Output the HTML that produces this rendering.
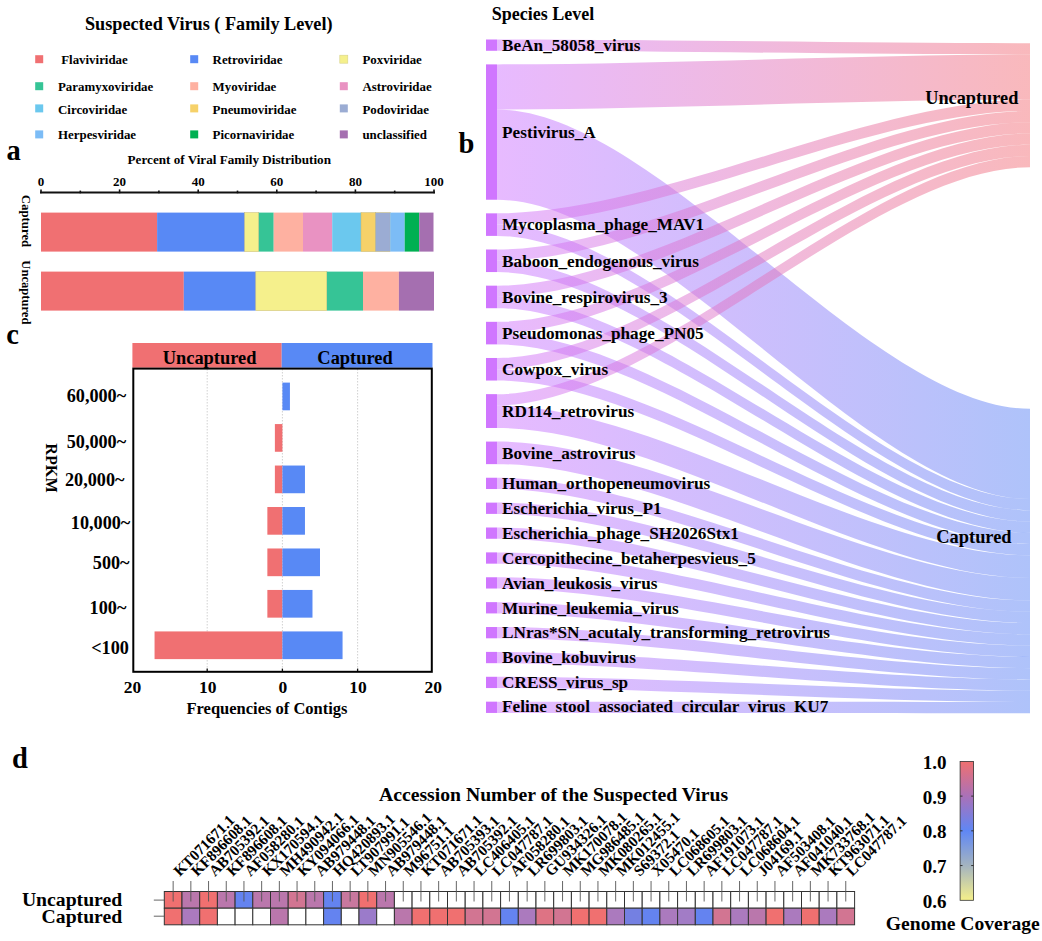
<!DOCTYPE html>
<html><head><meta charset="utf-8"><style>
html,body{margin:0;padding:0;background:#fff;}
svg{display:block;}
text{font-family:"Liberation Serif",serif;font-weight:bold;fill:#000;}
</style></head><body>
<svg width="1042" height="941" viewBox="0 0 1042 941">
<rect width="1042" height="941" fill="#fff"/>
<text x="85.00" y="29.80" font-size="18.2" text-anchor="start" >Suspected Virus ( Family Level)</text>
<rect x="35.2" y="55.2" width="8" height="8" fill="#F07072"/>
<text x="61.20" y="63.90" font-size="12.9" text-anchor="start" >Flaviviridae</text>
<rect x="35.2" y="82.2" width="8" height="8" fill="#36C496"/>
<text x="58.00" y="91.30" font-size="12.9" text-anchor="start" >Paramyxoviridae</text>
<rect x="35.2" y="104.4" width="8" height="8" fill="#6BC8EE"/>
<text x="58.00" y="113.50" font-size="12.9" text-anchor="start" >Circoviridae</text>
<rect x="35.2" y="130.4" width="8" height="8" fill="#7CBCF6"/>
<text x="58.00" y="139.20" font-size="12.9" text-anchor="start" >Herpesviridae</text>
<rect x="190.2" y="55.2" width="8" height="8" fill="#5889F5"/>
<text x="212.60" y="63.90" font-size="12.9" text-anchor="start" >Retroviridae</text>
<rect x="190.2" y="82.2" width="8" height="8" fill="#FEB1A1"/>
<text x="212.60" y="91.30" font-size="12.9" text-anchor="start" >Myoviridae</text>
<rect x="190.2" y="104.4" width="8" height="8" fill="#F6D169"/>
<text x="212.60" y="113.50" font-size="12.9" text-anchor="start" >Pneumoviridae</text>
<rect x="190.2" y="130.4" width="8" height="8" fill="#00B052"/>
<text x="212.60" y="139.20" font-size="12.9" text-anchor="start" >Picornaviridae</text>
<rect x="339.8" y="55.2" width="8" height="8" fill="#F5F08C" stroke="#d8d28a" stroke-width="0.6"/>
<text x="362.40" y="63.90" font-size="12.9" text-anchor="start" >Poxviridae</text>
<rect x="339.8" y="82.2" width="8" height="8" fill="#E992C2"/>
<text x="362.40" y="91.30" font-size="12.9" text-anchor="start" >Astroviridae</text>
<rect x="339.8" y="104.4" width="8" height="8" fill="#9BACD3"/>
<text x="362.40" y="113.50" font-size="12.9" text-anchor="start" >Podoviridae</text>
<rect x="339.8" y="130.4" width="8" height="8" fill="#A56FB0"/>
<text x="362.40" y="139.20" font-size="12.9" text-anchor="start" >unclassified</text>
<text x="6.40" y="159.80" font-size="28.5" text-anchor="start" >a</text>
<text x="127.60" y="164.20" font-size="13.15" text-anchor="start" >Percent of Viral Family Distribution</text>
<line x1="40.0" y1="192.6" x2="435.0" y2="192.6" stroke="#111" stroke-width="2"/>
<line x1="41.00" y1="189.4" x2="41.00" y2="193.3" stroke="#111" stroke-width="1.6"/>
<text x="41.00" y="185.90" font-size="13" text-anchor="middle" >0</text>
<line x1="80.30" y1="190.6" x2="80.30" y2="193.3" stroke="#111" stroke-width="1.6"/>
<line x1="119.60" y1="189.4" x2="119.60" y2="193.3" stroke="#111" stroke-width="1.6"/>
<text x="119.60" y="185.90" font-size="13" text-anchor="middle" >20</text>
<line x1="158.90" y1="190.6" x2="158.90" y2="193.3" stroke="#111" stroke-width="1.6"/>
<line x1="198.20" y1="189.4" x2="198.20" y2="193.3" stroke="#111" stroke-width="1.6"/>
<text x="198.20" y="185.90" font-size="13" text-anchor="middle" >40</text>
<line x1="237.50" y1="190.6" x2="237.50" y2="193.3" stroke="#111" stroke-width="1.6"/>
<line x1="276.80" y1="189.4" x2="276.80" y2="193.3" stroke="#111" stroke-width="1.6"/>
<text x="276.80" y="185.90" font-size="13" text-anchor="middle" >60</text>
<line x1="316.10" y1="190.6" x2="316.10" y2="193.3" stroke="#111" stroke-width="1.6"/>
<line x1="355.40" y1="189.4" x2="355.40" y2="193.3" stroke="#111" stroke-width="1.6"/>
<text x="355.40" y="185.90" font-size="13" text-anchor="middle" >80</text>
<line x1="394.70" y1="190.6" x2="394.70" y2="193.3" stroke="#111" stroke-width="1.6"/>
<line x1="434.00" y1="189.4" x2="434.00" y2="193.3" stroke="#111" stroke-width="1.6"/>
<text x="434.00" y="185.90" font-size="13" text-anchor="middle" >100</text>
<rect x="41.00" y="212.6" width="116.10" height="39" fill="#F07072"/>
<rect x="157.10" y="212.6" width="87.60" height="39" fill="#5889F5"/>
<rect x="244.70" y="212.6" width="14.10" height="39" fill="#F5F08C" stroke="#c8b870" stroke-width="0.5"/>
<rect x="258.80" y="212.6" width="14.90" height="39" fill="#36C496"/>
<rect x="273.70" y="212.6" width="29.30" height="39" fill="#FEB1A1"/>
<rect x="303.00" y="212.6" width="29.20" height="39" fill="#E992C2"/>
<rect x="332.20" y="212.6" width="28.80" height="39" fill="#6BC8EE"/>
<rect x="361.00" y="212.6" width="14.30" height="39" fill="#F6D169" stroke="#c8b870" stroke-width="0.5"/>
<rect x="375.30" y="212.6" width="14.90" height="39" fill="#9BACD3" stroke="#c8b870" stroke-width="0.5"/>
<rect x="390.20" y="212.6" width="14.50" height="39" fill="#7CBCF6"/>
<rect x="404.70" y="212.6" width="14.50" height="39" fill="#00B052"/>
<rect x="419.20" y="212.6" width="14.30" height="39" fill="#A56FB0"/>
<rect x="41.00" y="271.6" width="142.80" height="39" fill="#F07072"/>
<rect x="183.80" y="271.6" width="72.00" height="39" fill="#5889F5"/>
<rect x="255.80" y="271.6" width="71.10" height="39" fill="#F5F08C" stroke="#c8b870" stroke-width="0.5"/>
<rect x="326.90" y="271.6" width="36.10" height="39" fill="#36C496"/>
<rect x="363.00" y="271.6" width="35.90" height="39" fill="#FEB1A1"/>
<rect x="398.90" y="271.6" width="35.10" height="39" fill="#A56FB0"/>
<text transform="translate(22.2,221.0) rotate(90)" font-size="12.8" text-anchor="middle">Captured</text>
<text transform="translate(22.0,292.4) rotate(90)" font-size="12.6" text-anchor="middle">Uncaptured</text>
<text x="6.20" y="343.60" font-size="28.5" text-anchor="start" >c</text>
<rect x="132.4" y="343" width="149.30" height="24.7" fill="#F07072"/>
<rect x="281.7" y="343" width="150.80" height="24.7" fill="#5889F5"/>
<text x="209.60" y="363.50" font-size="18.4" text-anchor="middle" >Uncaptured</text>
<text x="355.00" y="363.50" font-size="18.4" text-anchor="middle" >Captured</text>
<line x1="207.20" y1="369" x2="207.20" y2="671" stroke="#bdbdbd" stroke-width="0.7" stroke-dasharray="1.5,1.5"/>
<line x1="282.40" y1="369" x2="282.40" y2="671" stroke="#bdbdbd" stroke-width="0.7" stroke-dasharray="1.5,1.5"/>
<line x1="357.60" y1="369" x2="357.60" y2="671" stroke="#bdbdbd" stroke-width="0.7" stroke-dasharray="1.5,1.5"/>
<rect x="282.40" y="382.60" width="7.52" height="27.7" fill="#5889F5"/>
<rect x="274.88" y="424.07" width="7.52" height="27.7" fill="#F07072"/>
<rect x="274.88" y="465.54" width="7.52" height="27.7" fill="#F07072"/>
<rect x="282.40" y="465.54" width="22.56" height="27.7" fill="#5889F5"/>
<rect x="267.36" y="507.01" width="15.04" height="27.7" fill="#F07072"/>
<rect x="282.40" y="507.01" width="22.56" height="27.7" fill="#5889F5"/>
<rect x="267.36" y="548.48" width="15.04" height="27.7" fill="#F07072"/>
<rect x="282.40" y="548.48" width="37.60" height="27.7" fill="#5889F5"/>
<rect x="267.36" y="589.95" width="15.04" height="27.7" fill="#F07072"/>
<rect x="282.40" y="589.95" width="30.08" height="27.7" fill="#5889F5"/>
<rect x="154.56" y="631.42" width="127.84" height="27.7" fill="#F07072"/>
<rect x="282.40" y="631.42" width="60.16" height="27.7" fill="#5889F5"/>
<rect x="133.3" y="368.6" width="298.5" height="303.2" fill="none" stroke="#000" stroke-width="2"/>
<line x1="207.20" y1="668.6" x2="207.20" y2="671" stroke="#111" stroke-width="1.3"/>
<line x1="282.40" y1="668.6" x2="282.40" y2="671" stroke="#111" stroke-width="1.3"/>
<line x1="357.60" y1="668.6" x2="357.60" y2="671" stroke="#111" stroke-width="1.3"/>
<text x="66.70" y="402.40" font-size="18.2" text-anchor="start" >60,000~</text>
<text x="66.70" y="447.60" font-size="18.2" text-anchor="start" >50,000~</text>
<text x="65.00" y="485.90" font-size="18.2" text-anchor="start" >20,000~</text>
<text x="70.80" y="528.90" font-size="18.2" text-anchor="start" >10,000~</text>
<text x="92.80" y="568.80" font-size="18.2" text-anchor="start" >500~</text>
<text x="89.60" y="613.70" font-size="18.2" text-anchor="start" >100~</text>
<text x="91.20" y="653.50" font-size="18.2" text-anchor="start" >&lt;100</text>
<text transform="translate(45.9,468) rotate(90)" font-size="16.2" text-anchor="middle">RPKM</text>
<text x="132.50" y="693.30" font-size="17.5" text-anchor="middle" >20</text>
<text x="207.70" y="693.30" font-size="17.5" text-anchor="middle" >10</text>
<text x="282.90" y="693.30" font-size="17.5" text-anchor="middle" >0</text>
<text x="358.10" y="693.30" font-size="17.5" text-anchor="middle" >10</text>
<text x="433.30" y="693.30" font-size="17.5" text-anchor="middle" >20</text>
<text x="186.50" y="713.60" font-size="16.5" text-anchor="start" >Frequencies of Contigs</text>
<text x="458.60" y="152.60" font-size="28.5" text-anchor="start" >b</text>
<text x="491.70" y="19.70" font-size="18.0" text-anchor="start" >Species Level</text>
<defs><linearGradient id="gu" gradientUnits="userSpaceOnUse" x1="497.0" y1="0" x2="1030.0" y2="0"><stop offset="0" stop-color="#D076FF"/><stop offset="1" stop-color="#F3737A"/></linearGradient><linearGradient id="gc" gradientUnits="userSpaceOnUse" x1="497.0" y1="0" x2="1030.0" y2="0"><stop offset="0" stop-color="#D076FF"/><stop offset="1" stop-color="#5F87F5"/></linearGradient><linearGradient id="cb" x1="0" y1="0" x2="0" y2="1"><stop offset="0" stop-color="#F07070"/><stop offset="0.25" stop-color="#AA71B8"/><stop offset="0.5" stop-color="#5F87F5"/><stop offset="0.75" stop-color="#A4B4C0"/><stop offset="1" stop-color="#F5F08A"/></linearGradient><clipPath id="sk"><rect x="0" y="0" width="1042" height="712.9"/></clipPath></defs>
<rect x="486.0" y="39.50" width="11.0" height="11.28" fill="#D076FF"/>
<rect x="486.0" y="64.38" width="11.0" height="135.36" fill="#D076FF"/>
<rect x="486.0" y="213.34" width="11.0" height="22.56" fill="#D076FF"/>
<rect x="486.0" y="249.50" width="11.0" height="22.56" fill="#D076FF"/>
<rect x="486.0" y="285.66" width="11.0" height="22.56" fill="#D076FF"/>
<rect x="486.0" y="321.82" width="11.0" height="22.56" fill="#D076FF"/>
<rect x="486.0" y="357.98" width="11.0" height="22.56" fill="#D076FF"/>
<rect x="486.0" y="394.14" width="11.0" height="33.84" fill="#D076FF"/>
<rect x="486.0" y="441.58" width="11.0" height="22.56" fill="#D076FF"/>
<rect x="486.0" y="477.74" width="11.0" height="11.28" fill="#D076FF"/>
<rect x="486.0" y="502.62" width="11.0" height="11.28" fill="#D076FF"/>
<rect x="486.0" y="527.50" width="11.0" height="11.28" fill="#D076FF"/>
<rect x="486.0" y="552.38" width="11.0" height="11.28" fill="#D076FF"/>
<rect x="486.0" y="577.26" width="11.0" height="11.28" fill="#D076FF"/>
<rect x="486.0" y="602.14" width="11.0" height="11.28" fill="#D076FF"/>
<rect x="486.0" y="627.02" width="11.0" height="11.28" fill="#D076FF"/>
<rect x="486.0" y="651.90" width="11.0" height="11.28" fill="#D076FF"/>
<rect x="486.0" y="676.78" width="11.0" height="11.28" fill="#D076FF"/>
<rect x="486.0" y="701.66" width="11.0" height="11.28" fill="#D076FF"/>
<path d="M497.0,109.50 C656.90,109.50 870.10,408.74 1030.0,408.74 L1030.0,498.98 C870.10,498.98 656.90,199.74 497.0,199.74 Z" fill="url(#gc)" fill-opacity="0.5"/>
<path d="M497.0,224.62 C656.90,224.62 870.10,498.98 1030.0,498.98 L1030.0,510.26 C870.10,510.26 656.90,235.90 497.0,235.90 Z" fill="url(#gc)" fill-opacity="0.5"/>
<path d="M497.0,260.78 C656.90,260.78 870.10,510.26 1030.0,510.26 L1030.0,521.54 C870.10,521.54 656.90,272.06 497.0,272.06 Z" fill="url(#gc)" fill-opacity="0.5"/>
<path d="M497.0,296.94 C656.90,296.94 870.10,521.54 1030.0,521.54 L1030.0,532.82 C870.10,532.82 656.90,308.22 497.0,308.22 Z" fill="url(#gc)" fill-opacity="0.5"/>
<path d="M497.0,333.10 C656.90,333.10 870.10,532.82 1030.0,532.82 L1030.0,544.10 C870.10,544.10 656.90,344.38 497.0,344.38 Z" fill="url(#gc)" fill-opacity="0.5"/>
<path d="M497.0,369.26 C656.90,369.26 870.10,544.10 1030.0,544.10 L1030.0,555.38 C870.10,555.38 656.90,380.54 497.0,380.54 Z" fill="url(#gc)" fill-opacity="0.5"/>
<path d="M497.0,405.42 C656.90,405.42 870.10,555.38 1030.0,555.38 L1030.0,577.94 C870.10,577.94 656.90,427.98 497.0,427.98 Z" fill="url(#gc)" fill-opacity="0.5"/>
<path d="M497.0,441.58 C656.90,441.58 870.10,577.94 1030.0,577.94 L1030.0,600.50 C870.10,600.50 656.90,464.14 497.0,464.14 Z" fill="url(#gc)" fill-opacity="0.5"/>
<path d="M497.0,477.74 C656.90,477.74 870.10,600.50 1030.0,600.50 L1030.0,611.78 C870.10,611.78 656.90,489.02 497.0,489.02 Z" fill="url(#gc)" fill-opacity="0.5"/>
<path d="M497.0,502.62 C656.90,502.62 870.10,611.78 1030.0,611.78 L1030.0,623.06 C870.10,623.06 656.90,513.90 497.0,513.90 Z" fill="url(#gc)" fill-opacity="0.5"/>
<path d="M497.0,527.50 C656.90,527.50 870.10,623.06 1030.0,623.06 L1030.0,634.34 C870.10,634.34 656.90,538.78 497.0,538.78 Z" fill="url(#gc)" fill-opacity="0.5"/>
<path d="M497.0,552.38 C656.90,552.38 870.10,634.34 1030.0,634.34 L1030.0,645.62 C870.10,645.62 656.90,563.66 497.0,563.66 Z" fill="url(#gc)" fill-opacity="0.5"/>
<path d="M497.0,577.26 C656.90,577.26 870.10,645.62 1030.0,645.62 L1030.0,656.90 C870.10,656.90 656.90,588.54 497.0,588.54 Z" fill="url(#gc)" fill-opacity="0.5"/>
<path d="M497.0,602.14 C656.90,602.14 870.10,656.90 1030.0,656.90 L1030.0,668.18 C870.10,668.18 656.90,613.42 497.0,613.42 Z" fill="url(#gc)" fill-opacity="0.5"/>
<path d="M497.0,627.02 C656.90,627.02 870.10,668.18 1030.0,668.18 L1030.0,679.46 C870.10,679.46 656.90,638.30 497.0,638.30 Z" fill="url(#gc)" fill-opacity="0.5"/>
<path d="M497.0,651.90 C656.90,651.90 870.10,679.46 1030.0,679.46 L1030.0,690.74 C870.10,690.74 656.90,663.18 497.0,663.18 Z" fill="url(#gc)" fill-opacity="0.5"/>
<path d="M497.0,676.78 C656.90,676.78 870.10,690.74 1030.0,690.74 L1030.0,702.02 C870.10,702.02 656.90,688.06 497.0,688.06 Z" fill="url(#gc)" fill-opacity="0.5"/>
<path d="M497.0,701.66 C656.90,701.66 870.10,702.02 1030.0,702.02 L1030.0,713.30 C870.10,713.30 656.90,712.94 497.0,712.94 Z" fill="url(#gc)" fill-opacity="0.5"/>
<path d="M497.0,39.50 C656.90,39.50 870.10,43.20 1030.0,43.20 L1030.0,54.48 C870.10,54.48 656.90,50.78 497.0,50.78 Z" fill="url(#gu)" fill-opacity="0.5"/>
<path d="M497.0,64.38 C656.90,64.38 870.10,54.48 1030.0,54.48 L1030.0,99.60 C870.10,99.60 656.90,109.50 497.0,109.50 Z" fill="url(#gu)" fill-opacity="0.5"/>
<path d="M497.0,213.34 C656.90,213.34 870.10,99.60 1030.0,99.60 L1030.0,110.88 C870.10,110.88 656.90,224.62 497.0,224.62 Z" fill="url(#gu)" fill-opacity="0.5"/>
<path d="M497.0,249.50 C656.90,249.50 870.10,110.88 1030.0,110.88 L1030.0,122.16 C870.10,122.16 656.90,260.78 497.0,260.78 Z" fill="url(#gu)" fill-opacity="0.5"/>
<path d="M497.0,285.66 C656.90,285.66 870.10,122.16 1030.0,122.16 L1030.0,133.44 C870.10,133.44 656.90,296.94 497.0,296.94 Z" fill="url(#gu)" fill-opacity="0.5"/>
<path d="M497.0,321.82 C656.90,321.82 870.10,133.44 1030.0,133.44 L1030.0,144.72 C870.10,144.72 656.90,333.10 497.0,333.10 Z" fill="url(#gu)" fill-opacity="0.5"/>
<path d="M497.0,357.98 C656.90,357.98 870.10,144.72 1030.0,144.72 L1030.0,156.00 C870.10,156.00 656.90,369.26 497.0,369.26 Z" fill="url(#gu)" fill-opacity="0.5"/>
<path d="M497.0,394.14 C656.90,394.14 870.10,156.00 1030.0,156.00 L1030.0,167.28 C870.10,167.28 656.90,405.42 497.0,405.42 Z" fill="url(#gu)" fill-opacity="0.5"/>
<text x="502.10" y="50.94" font-size="17.2" text-anchor="start" clip-path="url(#sk)">BeAn_58058_virus</text>
<text x="502.10" y="137.86" font-size="17.2" text-anchor="start" clip-path="url(#sk)">Pestivirus_A</text>
<text x="502.10" y="230.42" font-size="17.2" text-anchor="start" clip-path="url(#sk)">Mycoplasma_phage_MAV1</text>
<text x="502.10" y="266.58" font-size="17.2" text-anchor="start" clip-path="url(#sk)">Baboon_endogenous_virus</text>
<text x="502.10" y="302.74" font-size="17.2" text-anchor="start" clip-path="url(#sk)">Bovine_respirovirus_3</text>
<text x="502.10" y="338.90" font-size="17.2" text-anchor="start" clip-path="url(#sk)">Pseudomonas_phage_PN05</text>
<text x="502.10" y="375.06" font-size="17.2" text-anchor="start" clip-path="url(#sk)">Cowpox_virus</text>
<text x="502.10" y="416.86" font-size="17.2" text-anchor="start" clip-path="url(#sk)">RD114_retrovirus</text>
<text x="502.10" y="458.66" font-size="17.2" text-anchor="start" clip-path="url(#sk)">Bovine_astrovirus</text>
<text x="502.10" y="489.18" font-size="17.2" text-anchor="start" clip-path="url(#sk)">Human_orthopeneumovirus</text>
<text x="502.10" y="514.06" font-size="17.2" text-anchor="start" clip-path="url(#sk)">Escherichia_virus_P1</text>
<text x="502.10" y="538.94" font-size="17.2" text-anchor="start" clip-path="url(#sk)">Escherichia_phage_SH2026Stx1</text>
<text x="502.10" y="563.82" font-size="17.2" text-anchor="start" clip-path="url(#sk)">Cercopithecine_betaherpesvieus_5</text>
<text x="502.10" y="588.70" font-size="17.2" text-anchor="start" clip-path="url(#sk)">Avian_leukosis_virus</text>
<text x="502.10" y="613.58" font-size="17.2" text-anchor="start" clip-path="url(#sk)">Murine_leukemia_virus</text>
<text x="502.10" y="638.46" font-size="17.2" text-anchor="start" clip-path="url(#sk)">LNras*SN_acutaly_transforming_retrovirus</text>
<text x="502.10" y="663.34" font-size="17.2" text-anchor="start" clip-path="url(#sk)">Bovine_kobuvirus</text>
<text x="502.10" y="688.22" font-size="17.2" text-anchor="start" clip-path="url(#sk)">CRESS_virus_sp</text>
<text x="502.10" y="712.30" font-size="17.2" text-anchor="start" clip-path="url(#sk)">Feline_stool_associated_circular_virus_KU7</text>
<text x="925.20" y="103.60" font-size="18.3" text-anchor="start" >Uncaptured</text>
<text x="936.30" y="542.60" font-size="18.4" text-anchor="start" >Captured</text>
<text x="11.90" y="768.40" font-size="28.5" text-anchor="start" >d</text>
<text x="379.00" y="801.30" font-size="19.7" text-anchor="start" >Accession Number of the Suspected Virus</text>
<text x="122.20" y="906.40" font-size="19.7" text-anchor="end" >Uncaptured</text>
<text x="122.20" y="923.40" font-size="19.7" text-anchor="end" >Captured</text>
<rect x="164.30" y="891.50" width="17.70" height="16.70" fill="#F07070" stroke="#333" stroke-width="1"/>
<rect x="164.30" y="908.20" width="17.70" height="16.60" fill="#F07070" stroke="#333" stroke-width="1"/>
<rect x="182.00" y="891.50" width="17.70" height="16.70" fill="#BA77AC" stroke="#333" stroke-width="1"/>
<rect x="182.00" y="908.20" width="17.70" height="16.60" fill="#AB7ABE" stroke="#333" stroke-width="1"/>
<rect x="199.70" y="891.50" width="17.70" height="16.70" fill="#F07070" stroke="#333" stroke-width="1"/>
<rect x="199.70" y="908.20" width="17.70" height="16.60" fill="#F07070" stroke="#333" stroke-width="1"/>
<rect x="217.40" y="891.50" width="17.70" height="16.70" fill="#BA77AC" stroke="#333" stroke-width="1"/>
<rect x="217.40" y="908.20" width="17.70" height="16.60" fill="#FFFFFF" stroke="#333" stroke-width="1"/>
<rect x="235.10" y="891.50" width="17.70" height="16.70" fill="#6483F0" stroke="#333" stroke-width="1"/>
<rect x="235.10" y="908.20" width="17.70" height="16.60" fill="#FFFFFF" stroke="#333" stroke-width="1"/>
<rect x="252.80" y="891.50" width="17.70" height="16.70" fill="#BA77AC" stroke="#333" stroke-width="1"/>
<rect x="252.80" y="908.20" width="17.70" height="16.60" fill="#FFFFFF" stroke="#333" stroke-width="1"/>
<rect x="270.50" y="891.50" width="17.70" height="16.70" fill="#BA77AC" stroke="#333" stroke-width="1"/>
<rect x="270.50" y="908.20" width="17.70" height="16.60" fill="#BA77AC" stroke="#333" stroke-width="1"/>
<rect x="288.20" y="891.50" width="17.70" height="16.70" fill="#D27592" stroke="#333" stroke-width="1"/>
<rect x="288.20" y="908.20" width="17.70" height="16.60" fill="#FFFFFF" stroke="#333" stroke-width="1"/>
<rect x="305.90" y="891.50" width="17.70" height="16.70" fill="#BA77AC" stroke="#333" stroke-width="1"/>
<rect x="305.90" y="908.20" width="17.70" height="16.60" fill="#FFFFFF" stroke="#333" stroke-width="1"/>
<rect x="323.60" y="891.50" width="17.70" height="16.70" fill="#6483F0" stroke="#333" stroke-width="1"/>
<rect x="323.60" y="908.20" width="17.70" height="16.60" fill="#6483F0" stroke="#333" stroke-width="1"/>
<rect x="341.30" y="891.50" width="17.70" height="16.70" fill="#C8789E" stroke="#333" stroke-width="1"/>
<rect x="341.30" y="908.20" width="17.70" height="16.60" fill="#FFFFFF" stroke="#333" stroke-width="1"/>
<rect x="359.00" y="891.50" width="17.70" height="16.70" fill="#F07070" stroke="#333" stroke-width="1"/>
<rect x="359.00" y="908.20" width="17.70" height="16.60" fill="#9B7BCA" stroke="#333" stroke-width="1"/>
<rect x="376.70" y="891.50" width="17.70" height="16.70" fill="#BA77AC" stroke="#333" stroke-width="1"/>
<rect x="376.70" y="908.20" width="17.70" height="16.60" fill="#FFFFFF" stroke="#333" stroke-width="1"/>
<rect x="394.40" y="891.50" width="17.70" height="16.70" fill="#FFFFFF" stroke="#333" stroke-width="1"/>
<rect x="394.40" y="908.20" width="17.70" height="16.60" fill="#BA77AC" stroke="#333" stroke-width="1"/>
<rect x="412.10" y="891.50" width="17.70" height="16.70" fill="#FFFFFF" stroke="#333" stroke-width="1"/>
<rect x="412.10" y="908.20" width="17.70" height="16.60" fill="#F07070" stroke="#333" stroke-width="1"/>
<rect x="429.80" y="891.50" width="17.70" height="16.70" fill="#FFFFFF" stroke="#333" stroke-width="1"/>
<rect x="429.80" y="908.20" width="17.70" height="16.60" fill="#F07070" stroke="#333" stroke-width="1"/>
<rect x="447.50" y="891.50" width="17.70" height="16.70" fill="#FFFFFF" stroke="#333" stroke-width="1"/>
<rect x="447.50" y="908.20" width="17.70" height="16.60" fill="#F07070" stroke="#333" stroke-width="1"/>
<rect x="465.20" y="891.50" width="17.70" height="16.70" fill="#FFFFFF" stroke="#333" stroke-width="1"/>
<rect x="465.20" y="908.20" width="17.70" height="16.60" fill="#D27592" stroke="#333" stroke-width="1"/>
<rect x="482.90" y="891.50" width="17.70" height="16.70" fill="#FFFFFF" stroke="#333" stroke-width="1"/>
<rect x="482.90" y="908.20" width="17.70" height="16.60" fill="#D27592" stroke="#333" stroke-width="1"/>
<rect x="500.60" y="891.50" width="17.70" height="16.70" fill="#FFFFFF" stroke="#333" stroke-width="1"/>
<rect x="500.60" y="908.20" width="17.70" height="16.60" fill="#6483F0" stroke="#333" stroke-width="1"/>
<rect x="518.30" y="891.50" width="17.70" height="16.70" fill="#FFFFFF" stroke="#333" stroke-width="1"/>
<rect x="518.30" y="908.20" width="17.70" height="16.60" fill="#AB7ABE" stroke="#333" stroke-width="1"/>
<rect x="536.00" y="891.50" width="17.70" height="16.70" fill="#FFFFFF" stroke="#333" stroke-width="1"/>
<rect x="536.00" y="908.20" width="17.70" height="16.60" fill="#DE7384" stroke="#333" stroke-width="1"/>
<rect x="553.70" y="891.50" width="17.70" height="16.70" fill="#FFFFFF" stroke="#333" stroke-width="1"/>
<rect x="553.70" y="908.20" width="17.70" height="16.60" fill="#D27592" stroke="#333" stroke-width="1"/>
<rect x="571.40" y="891.50" width="17.70" height="16.70" fill="#FFFFFF" stroke="#333" stroke-width="1"/>
<rect x="571.40" y="908.20" width="17.70" height="16.60" fill="#F07070" stroke="#333" stroke-width="1"/>
<rect x="589.10" y="891.50" width="17.70" height="16.70" fill="#FFFFFF" stroke="#333" stroke-width="1"/>
<rect x="589.10" y="908.20" width="17.70" height="16.60" fill="#F07070" stroke="#333" stroke-width="1"/>
<rect x="606.80" y="891.50" width="17.70" height="16.70" fill="#FFFFFF" stroke="#333" stroke-width="1"/>
<rect x="606.80" y="908.20" width="17.70" height="16.60" fill="#AB7ABE" stroke="#333" stroke-width="1"/>
<rect x="624.50" y="891.50" width="17.70" height="16.70" fill="#FFFFFF" stroke="#333" stroke-width="1"/>
<rect x="624.50" y="908.20" width="17.70" height="16.60" fill="#7480E2" stroke="#333" stroke-width="1"/>
<rect x="642.20" y="891.50" width="17.70" height="16.70" fill="#FFFFFF" stroke="#333" stroke-width="1"/>
<rect x="642.20" y="908.20" width="17.70" height="16.60" fill="#6483F0" stroke="#333" stroke-width="1"/>
<rect x="659.90" y="891.50" width="17.70" height="16.70" fill="#FFFFFF" stroke="#333" stroke-width="1"/>
<rect x="659.90" y="908.20" width="17.70" height="16.60" fill="#AB7ABE" stroke="#333" stroke-width="1"/>
<rect x="677.60" y="891.50" width="17.70" height="16.70" fill="#FFFFFF" stroke="#333" stroke-width="1"/>
<rect x="677.60" y="908.20" width="17.70" height="16.60" fill="#A27CC6" stroke="#333" stroke-width="1"/>
<rect x="695.30" y="891.50" width="17.70" height="16.70" fill="#FFFFFF" stroke="#333" stroke-width="1"/>
<rect x="695.30" y="908.20" width="17.70" height="16.60" fill="#6483F0" stroke="#333" stroke-width="1"/>
<rect x="713.00" y="891.50" width="17.70" height="16.70" fill="#FFFFFF" stroke="#333" stroke-width="1"/>
<rect x="713.00" y="908.20" width="17.70" height="16.60" fill="#D27592" stroke="#333" stroke-width="1"/>
<rect x="730.70" y="891.50" width="17.70" height="16.70" fill="#FFFFFF" stroke="#333" stroke-width="1"/>
<rect x="730.70" y="908.20" width="17.70" height="16.60" fill="#AB7ABE" stroke="#333" stroke-width="1"/>
<rect x="748.40" y="891.50" width="17.70" height="16.70" fill="#FFFFFF" stroke="#333" stroke-width="1"/>
<rect x="748.40" y="908.20" width="17.70" height="16.60" fill="#BA77AC" stroke="#333" stroke-width="1"/>
<rect x="766.10" y="891.50" width="17.70" height="16.70" fill="#FFFFFF" stroke="#333" stroke-width="1"/>
<rect x="766.10" y="908.20" width="17.70" height="16.60" fill="#F07070" stroke="#333" stroke-width="1"/>
<rect x="783.80" y="891.50" width="17.70" height="16.70" fill="#FFFFFF" stroke="#333" stroke-width="1"/>
<rect x="783.80" y="908.20" width="17.70" height="16.60" fill="#AB7ABE" stroke="#333" stroke-width="1"/>
<rect x="801.50" y="891.50" width="17.70" height="16.70" fill="#FFFFFF" stroke="#333" stroke-width="1"/>
<rect x="801.50" y="908.20" width="17.70" height="16.60" fill="#F07070" stroke="#333" stroke-width="1"/>
<rect x="819.20" y="891.50" width="17.70" height="16.70" fill="#FFFFFF" stroke="#333" stroke-width="1"/>
<rect x="819.20" y="908.20" width="17.70" height="16.60" fill="#AB7ABE" stroke="#333" stroke-width="1"/>
<rect x="836.90" y="891.50" width="17.70" height="16.70" fill="#FFFFFF" stroke="#333" stroke-width="1"/>
<rect x="836.90" y="908.20" width="17.70" height="16.60" fill="#D27592" stroke="#333" stroke-width="1"/>
<line x1="173.15" y1="881" x2="173.15" y2="901.5" stroke="#555" stroke-width="0.9"/>
<line x1="190.85" y1="881" x2="190.85" y2="901.5" stroke="#555" stroke-width="0.9"/>
<line x1="208.55" y1="881" x2="208.55" y2="901.5" stroke="#555" stroke-width="0.9"/>
<line x1="226.25" y1="881" x2="226.25" y2="901.5" stroke="#555" stroke-width="0.9"/>
<line x1="243.95" y1="881" x2="243.95" y2="901.5" stroke="#555" stroke-width="0.9"/>
<line x1="261.65" y1="881" x2="261.65" y2="901.5" stroke="#555" stroke-width="0.9"/>
<line x1="279.35" y1="881" x2="279.35" y2="901.5" stroke="#555" stroke-width="0.9"/>
<line x1="297.05" y1="881" x2="297.05" y2="901.5" stroke="#555" stroke-width="0.9"/>
<line x1="314.75" y1="881" x2="314.75" y2="901.5" stroke="#555" stroke-width="0.9"/>
<line x1="332.45" y1="881" x2="332.45" y2="901.5" stroke="#555" stroke-width="0.9"/>
<line x1="350.15" y1="881" x2="350.15" y2="901.5" stroke="#555" stroke-width="0.9"/>
<line x1="367.85" y1="881" x2="367.85" y2="901.5" stroke="#555" stroke-width="0.9"/>
<line x1="385.55" y1="881" x2="385.55" y2="901.5" stroke="#555" stroke-width="0.9"/>
<line x1="403.25" y1="881" x2="403.25" y2="901.5" stroke="#555" stroke-width="0.9"/>
<line x1="420.95" y1="881" x2="420.95" y2="901.5" stroke="#555" stroke-width="0.9"/>
<line x1="438.65" y1="881" x2="438.65" y2="901.5" stroke="#555" stroke-width="0.9"/>
<line x1="456.35" y1="881" x2="456.35" y2="901.5" stroke="#555" stroke-width="0.9"/>
<line x1="474.05" y1="881" x2="474.05" y2="901.5" stroke="#555" stroke-width="0.9"/>
<line x1="491.75" y1="881" x2="491.75" y2="901.5" stroke="#555" stroke-width="0.9"/>
<line x1="509.45" y1="881" x2="509.45" y2="901.5" stroke="#555" stroke-width="0.9"/>
<line x1="527.15" y1="881" x2="527.15" y2="901.5" stroke="#555" stroke-width="0.9"/>
<line x1="544.85" y1="881" x2="544.85" y2="901.5" stroke="#555" stroke-width="0.9"/>
<line x1="562.55" y1="881" x2="562.55" y2="901.5" stroke="#555" stroke-width="0.9"/>
<line x1="580.25" y1="881" x2="580.25" y2="901.5" stroke="#555" stroke-width="0.9"/>
<line x1="597.95" y1="881" x2="597.95" y2="901.5" stroke="#555" stroke-width="0.9"/>
<line x1="615.65" y1="881" x2="615.65" y2="901.5" stroke="#555" stroke-width="0.9"/>
<line x1="633.35" y1="881" x2="633.35" y2="901.5" stroke="#555" stroke-width="0.9"/>
<line x1="651.05" y1="881" x2="651.05" y2="901.5" stroke="#555" stroke-width="0.9"/>
<line x1="668.75" y1="881" x2="668.75" y2="901.5" stroke="#555" stroke-width="0.9"/>
<line x1="686.45" y1="881" x2="686.45" y2="901.5" stroke="#555" stroke-width="0.9"/>
<line x1="704.15" y1="881" x2="704.15" y2="901.5" stroke="#555" stroke-width="0.9"/>
<line x1="721.85" y1="881" x2="721.85" y2="901.5" stroke="#555" stroke-width="0.9"/>
<line x1="739.55" y1="881" x2="739.55" y2="901.5" stroke="#555" stroke-width="0.9"/>
<line x1="757.25" y1="881" x2="757.25" y2="901.5" stroke="#555" stroke-width="0.9"/>
<line x1="774.95" y1="881" x2="774.95" y2="901.5" stroke="#555" stroke-width="0.9"/>
<line x1="792.65" y1="881" x2="792.65" y2="901.5" stroke="#555" stroke-width="0.9"/>
<line x1="810.35" y1="881" x2="810.35" y2="901.5" stroke="#555" stroke-width="0.9"/>
<line x1="828.05" y1="881" x2="828.05" y2="901.5" stroke="#555" stroke-width="0.9"/>
<line x1="845.75" y1="881" x2="845.75" y2="901.5" stroke="#555" stroke-width="0.9"/>
<line x1="153.8" y1="900.1" x2="164.3" y2="900.1" stroke="#555" stroke-width="0.9"/>
<line x1="153.8" y1="916.2" x2="164.3" y2="916.2" stroke="#555" stroke-width="0.9"/>
<text transform="translate(179.65,877) rotate(-45)" font-size="15.2">KT071671.1</text>
<text transform="translate(197.35,877) rotate(-45)" font-size="15.2">KF896608.1</text>
<text transform="translate(215.05,877) rotate(-45)" font-size="15.2">AB705392.1</text>
<text transform="translate(232.75,877) rotate(-45)" font-size="15.2">KF896608.1</text>
<text transform="translate(250.45,877) rotate(-45)" font-size="15.2">AF058280.1</text>
<text transform="translate(268.15,877) rotate(-45)" font-size="15.2">KX170594.1</text>
<text transform="translate(285.85,877) rotate(-45)" font-size="15.2">MH490942.1</text>
<text transform="translate(303.55,877) rotate(-45)" font-size="15.2">KY094066.1</text>
<text transform="translate(321.25,877) rotate(-45)" font-size="15.2">AB979448.1</text>
<text transform="translate(338.95,877) rotate(-45)" font-size="15.2">HQ420893.1</text>
<text transform="translate(356.65,877) rotate(-45)" font-size="15.2">LT907991.1</text>
<text transform="translate(374.35,877) rotate(-45)" font-size="15.2">MN905546.1</text>
<text transform="translate(392.05,877) rotate(-45)" font-size="15.2">AB979448.1</text>
<text transform="translate(409.75,877) rotate(-45)" font-size="15.2">M96751.1</text>
<text transform="translate(427.45,877) rotate(-45)" font-size="15.2">KT071671.1</text>
<text transform="translate(445.15,877) rotate(-45)" font-size="15.2">AB705393.1</text>
<text transform="translate(462.85,877) rotate(-45)" font-size="15.2">AB705392.1</text>
<text transform="translate(480.55,877) rotate(-45)" font-size="15.2">LC406405.1</text>
<text transform="translate(498.25,877) rotate(-45)" font-size="15.2">LC047787.1</text>
<text transform="translate(515.95,877) rotate(-45)" font-size="15.2">AF058280.1</text>
<text transform="translate(533.65,877) rotate(-45)" font-size="15.2">LR699803.1</text>
<text transform="translate(551.35,877) rotate(-45)" font-size="15.2">GU934326.1</text>
<text transform="translate(569.05,877) rotate(-45)" font-size="15.2">MK170078.1</text>
<text transform="translate(586.75,877) rotate(-45)" font-size="15.2">MG986485.1</text>
<text transform="translate(604.45,877) rotate(-45)" font-size="15.2">MK080265.1</text>
<text transform="translate(622.15,877) rotate(-45)" font-size="15.2">MK012455.1</text>
<text transform="translate(639.85,877) rotate(-45)" font-size="15.2">S69372.1</text>
<text transform="translate(657.55,877) rotate(-45)" font-size="15.2">X05470.1</text>
<text transform="translate(675.25,877) rotate(-45)" font-size="15.2">LC068605.1</text>
<text transform="translate(692.95,877) rotate(-45)" font-size="15.2">LR699803.1</text>
<text transform="translate(710.65,877) rotate(-45)" font-size="15.2">AF191073.1</text>
<text transform="translate(728.35,877) rotate(-45)" font-size="15.2">LC047787.1</text>
<text transform="translate(746.05,877) rotate(-45)" font-size="15.2">LC068604.1</text>
<text transform="translate(763.75,877) rotate(-45)" font-size="15.2">J04169.1</text>
<text transform="translate(781.45,877) rotate(-45)" font-size="15.2">AF503408.1</text>
<text transform="translate(799.15,877) rotate(-45)" font-size="15.2">AF041040.1</text>
<text transform="translate(816.85,877) rotate(-45)" font-size="15.2">MK733768.1</text>
<text transform="translate(834.55,877) rotate(-45)" font-size="15.2">KT963071.1</text>
<text transform="translate(852.25,877) rotate(-45)" font-size="15.2">LC047787.1</text>
<rect x="960.1" y="761.4" width="13.5" height="138.9" fill="url(#cb)" stroke="#333" stroke-width="0.8"/>
<text x="922.70" y="768.80" font-size="19" text-anchor="start" >1.0</text>
<text x="922.70" y="803.52" font-size="19" text-anchor="start" >0.9</text>
<line x1="960.1" y1="796.12" x2="962.5" y2="796.12" stroke="#333" stroke-width="1"/>
<line x1="971.2" y1="796.12" x2="973.6" y2="796.12" stroke="#333" stroke-width="1"/>
<text x="922.70" y="838.24" font-size="19" text-anchor="start" >0.8</text>
<line x1="960.1" y1="830.84" x2="962.5" y2="830.84" stroke="#333" stroke-width="1"/>
<line x1="971.2" y1="830.84" x2="973.6" y2="830.84" stroke="#333" stroke-width="1"/>
<text x="922.70" y="872.96" font-size="19" text-anchor="start" >0.7</text>
<line x1="960.1" y1="865.56" x2="962.5" y2="865.56" stroke="#333" stroke-width="1"/>
<line x1="971.2" y1="865.56" x2="973.6" y2="865.56" stroke="#333" stroke-width="1"/>
<text x="922.70" y="907.68" font-size="19" text-anchor="start" >0.6</text>
<text x="885.80" y="930.20" font-size="19.6" text-anchor="start" >Genome Coverage</text>
</svg></body></html>
